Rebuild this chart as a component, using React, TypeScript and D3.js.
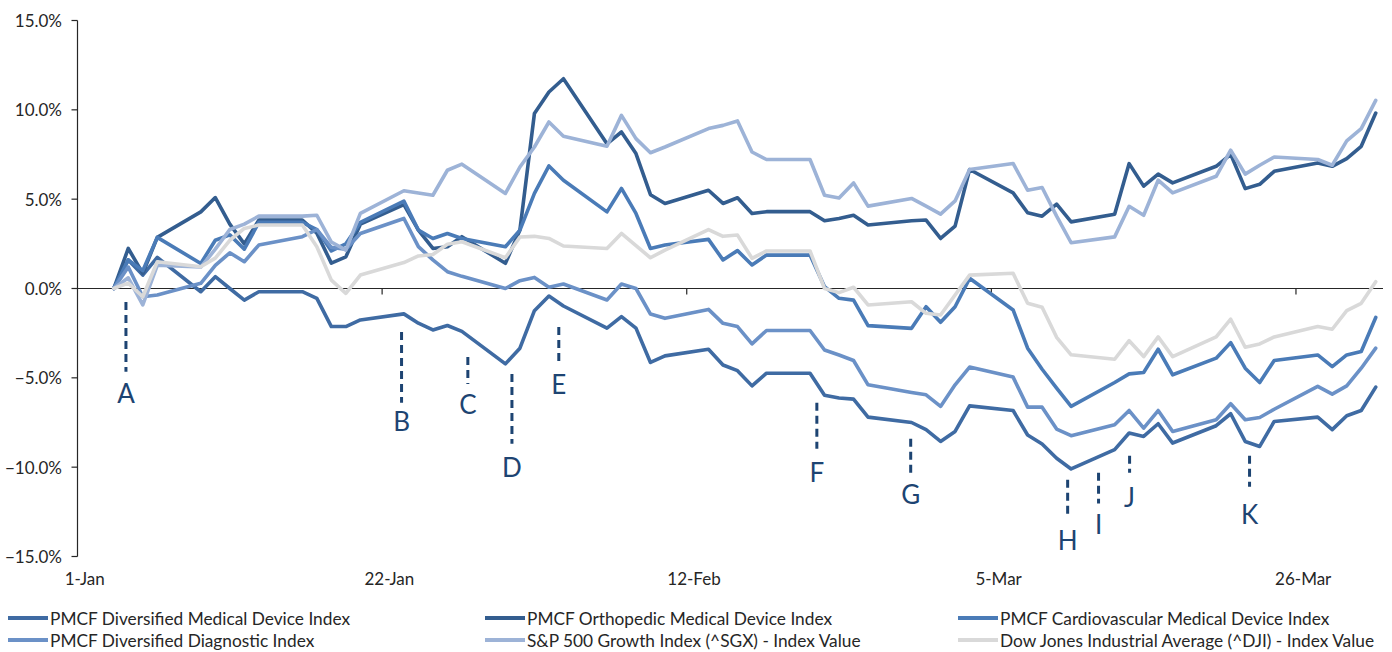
import React from 'react';
import * as d3 from 'd3';

const dates = [
  '2017-01-03','2017-01-04','2017-01-05','2017-01-06','2017-01-09','2017-01-10','2017-01-11','2017-01-12','2017-01-13',
  '2017-01-16','2017-01-17','2017-01-18','2017-01-19','2017-01-20','2017-01-23','2017-01-24','2017-01-25','2017-01-26',
  '2017-01-27','2017-01-30','2017-01-31',
  '2017-02-01','2017-02-02','2017-02-03','2017-02-06','2017-02-07','2017-02-08','2017-02-09','2017-02-10','2017-02-13',
  '2017-02-14','2017-02-15','2017-02-16','2017-02-17','2017-02-20','2017-02-21','2017-02-22','2017-02-23','2017-02-24',
  '2017-02-27','2017-02-28',
  '2017-03-01','2017-03-02','2017-03-03','2017-03-06','2017-03-07','2017-03-08','2017-03-09','2017-03-10','2017-03-13',
  '2017-03-14','2017-03-15','2017-03-16','2017-03-17','2017-03-20','2017-03-21','2017-03-22','2017-03-23','2017-03-24',
  '2017-03-27','2017-03-28','2017-03-29','2017-03-30','2017-03-31',
];

const divMed = [
  0, 1.6, 0.75, 1.74, -0.18, 0.66, 0.0, -0.65, -0.18, -0.18, -0.55, -2.13, -2.13, -1.76, -1.42, -1.94, -2.32, -2.07, -2.4, -4.22, -3.34,
  -1.24, -0.42, -0.98, -2.22, -1.57, -2.22, -4.14, -3.77, -3.4, -4.28, -4.6, -5.45, -4.74, -4.74, -5.98, -6.13, -6.19, -7.2, -7.5, -7.9,
  -8.56, -8.0, -6.57, -6.83, -8.2, -8.7, -9.5, -10.1, -9.02, -8.09, -8.28, -7.57, -8.65, -7.68, -7.01, -8.56, -8.84, -7.44, -7.2, -7.9, -7.12, -6.83, -5.52,
];
const ortho = [
  0, 2.24, 0.85, 2.86, 4.29, 5.09, 3.6, 2.5, 3.83, 3.83, 3.1, 1.42, 1.77, 3.6, 4.7, 3.27, 2.24, 2.34, 2.9, 1.41, 3.27,
  9.79, 11.0, 11.74, 8.1, 8.76, 7.55, 5.25, 4.76, 5.5, 4.76, 5.08, 4.2, 4.3, 4.3, 3.79, 3.92, 4.1, 3.55, 3.79, 3.83,
  2.8, 3.49, 6.66, 5.35, 4.24, 4.05, 4.72, 3.73, 4.16, 6.99, 5.73, 6.4, 5.91, 6.84, 7.51, 5.59, 5.83, 6.56, 7.03, 6.84, 7.27, 7.96, 9.82,
];
const cardio = [
  0, 1.6, 1.0, 2.86, 1.4, 2.7, 3.0, 2.2, 3.7, 3.7, 3.3, 2.1, 2.5, 3.7, 4.89, 3.27, 2.8, 3.08, 2.8, 2.34, 3.27,
  5.32, 6.86, 6.06, 4.29, 5.6, 4.2, 2.24, 2.43, 2.75, 1.6, 2.12, 1.32, 1.87, 1.87, 0.1, -0.55, -0.65, -2.08, -2.23, -1.02,
  -1.89, -1.02, 0.57, -1.2, -3.34, -4.52, -5.58, -6.6, -5.26, -4.78, -4.7, -3.4, -4.83, -3.9, -3.03, -4.46, -5.26, -4.03, -3.72, -4.37, -3.72, -3.53, -1.62,
];
const diag = [
  0, 1.2, -0.46, -0.36, 0.29, 1.3, 2.0, 1.5, 2.43, 2.9, 3.3, 2.3, 2.2, 3.08, 3.92, 2.34, 1.6, 0.94, 0.68, 0.0, 0.44,
  0.62, 0.07, 0.25, -0.64, 0.25, 0.0, -1.43, -1.67, -1.17, -1.95, -2.13, -3.1, -2.35, -2.35, -3.44, -3.72, -4.03, -5.39, -5.82, -5.95,
  -6.6, -5.39, -4.4, -4.96, -6.64, -6.64, -7.87, -8.24, -7.63, -6.83, -7.81, -6.83, -8.0, -7.35, -6.45, -7.35, -7.22, -6.76, -5.48, -5.91, -5.45, -4.46, -3.34,
];
const spGrowth = [
  0, 0.6, -0.92, 1.3, 1.2, 2.2, 3.3, 3.6, 4.05, 4.05, 4.1, 2.6, 2.15, 4.2, 5.47, 5.35, 5.22, 6.62, 6.96, 5.32, 6.8,
  7.92, 9.32, 8.52, 7.96, 9.69, 8.39, 7.6, 7.92, 8.95, 9.13, 9.38, 7.64, 7.22, 7.22, 5.22, 5.07, 5.91, 4.61, 5.04, 4.61,
  4.16, 4.9, 6.66, 7.0, 5.5, 5.65, 4.05, 2.56, 2.89, 4.6, 4.1, 6.06, 5.35, 6.28, 7.74, 6.4, 6.9, 7.36, 7.22, 6.9, 8.26, 8.95, 10.53,
];
const dji = [
  0, 0.3, -0.46, 1.5, 1.22, 1.7, 2.7, 3.36, 3.55, 3.55, 2.34, 0.47, -0.27, 0.75, 1.45, 1.82, 1.9, 2.48, 2.62, 1.72, 2.88,
  2.92, 2.8, 2.38, 2.24, 3.08, 2.4, 1.72, 2.15, 3.3, 2.92, 2.99, 1.69, 2.1, 2.1, 0.0, -0.23, 0.07, -0.92, -0.74, -1.39,
  -1.48, -0.36, 0.75, 0.85, -0.83, -1.05, -2.73, -3.71, -3.96, -2.92, -3.81, -2.71, -3.81, -2.71, -1.72, -3.29, -3.1, -2.71, -2.13, -2.28, -1.24, -0.83, 0.38,
];

const seriesNames = [
  'PMCF Diversified Medical Device Index',
  'PMCF Orthopedic Medical Device Index',
  'PMCF Cardiovascular Medical Device Index',
  'PMCF Diversified Diagnostic Index',
  'S&P 500 Growth Index (^SGX) - Index Value',
  'Dow Jones Industrial Average (^DJI) - Index Value',
];
const seriesValues = [divMed, ortho, cardio, diag, spGrowth, dji];
const seriesColors = ['#3f6ba3', '#335d8f', '#4a7bb7', '#6b91c7', '#9db3d7', '#d9d9d9'];

const yTicks = [15, 10, 5, 0, -5, -10, -15];
const xTickDates = ['2017-01-01', '2017-01-22', '2017-02-12', '2017-03-05', '2017-03-26'];
const xTickLabels = ['1-Jan', '22-Jan', '12-Feb', '5-Mar', '26-Mar'];

// day offset from 1-Jan (fractional), dash top/bottom and label centre in % units
const annLabels = ['A', 'B', 'C', 'D', 'E', 'F', 'G', 'H', 'I', 'J', 'K'];
const annDays = [3.34, 22.34, 26.91, 29.95, 33.18, 50.97, 57.44, 68.26, 70.39, 72.53, 80.8];
const annTop = [-0.75, -2.43, -3.83, -4.78, -2.15, -6.4, -8.41, -10.7, -10.31, -9.36, -9.36];
const annBottom = [-4.66, -6.4, -5.34, -8.69, -4.16, -8.97, -10.31, -12.77, -12.04, -10.31, -11.09];
const annText = [-5.84, -7.4, -6.45, -9.97, -5.34, -10.25, -11.48, -14.05, -13.16, -11.65, -12.6];

const W = 1392;
const H = 652;
const FONT = 'Lato, "Open Sans", sans-serif';

export default function App() {
  const parse = d3.utcParse('%Y-%m-%d');
  const start = parse('2017-01-01') as Date;
  const end = parse('2017-04-01') as Date;
  const x = d3.scaleUtc().domain([start, end]).range([77.5, 1383]);
  const y = d3.scaleLinear().domain([-15, 15]).range([556.5, 20.5]);
  const mid = (d: Date) => new Date(d.getTime() + 12 * 3600 * 1000);
  const pts = dates.map((s) => mid(parse(s) as Date));
  const line = d3
    .line<number>()
    .x((_, i) => x(pts[i]))
    .y((v) => y(v));
  const dayX = (day: number) => x(new Date(start.getTime() + day * 86400000));

  const legendCols = [8, 485, 958];
  const legendRows = [618, 640];
  const axisColor = '#262626';

  return (
    <div style={{ position: 'absolute', left: 0, top: 0 }}>
      <svg width={W} height={H} style={{ display: 'block', background: '#fff' }} fontFamily={FONT}>
        {/* y axis */}
        <line x1={77.5} x2={77.5} y1={y(15)} y2={y(-15)} stroke={axisColor} strokeWidth={1.2} />
        {yTicks.map((t) => (
          <g key={t}>
            <line x1={71.5} x2={77.5} y1={y(t)} y2={y(t)} stroke={axisColor} strokeWidth={1.2} />
            <text x={62} y={y(t)} textAnchor="end" dominantBaseline="central" fontSize={17} fill="#262626">
              {d3.format('.1f')(t) + '%'}
            </text>
          </g>
        ))}
        {/* x axis at zero */}
        <line x1={77.5} x2={1383} y1={y(0)} y2={y(0)} stroke={axisColor} strokeWidth={1.2} />
        {xTickDates.map((s, i) => {
          const d = parse(s) as Date;
          return (
            <g key={s}>
              {i > 0 && <line x1={x(d)} x2={x(d)} y1={y(0)} y2={y(0) + 6} stroke={axisColor} strokeWidth={1.2} />}
              <text x={x(mid(d))} y={585} textAnchor="middle" fontSize={17} fill="#262626">
                {xTickLabels[i]}
              </text>
            </g>
          );
        })}
        {/* series */}
        {seriesValues.map((vals, i) => (
          <path
            key={seriesNames[i]}
            d={line(vals) || ''}
            fill="none"
            stroke={seriesColors[i]}
            strokeWidth={3.6}
            strokeLinejoin="round"
            strokeLinecap="round"
          />
        ))}
        {/* annotations */}
        {annLabels.map((lab, i) => (
          <g key={lab}>
            <line
              x1={dayX(annDays[i])}
              x2={dayX(annDays[i])}
              y1={y(annTop[i])}
              y2={y(annBottom[i])}
              stroke="#1d4472"
              strokeWidth={3}
              strokeDasharray="8 5"
            />
            <text
              x={dayX(annDays[i])}
              y={y(annText[i])}
              textAnchor="middle"
              dominantBaseline="central"
              fontSize={26}
              fill="#1d4472"
            >
              {lab}
            </text>
          </g>
        ))}
        {/* legend */}
        {seriesNames.map((name, i) => {
          const cx = legendCols[i % 3];
          const cy = legendRows[Math.floor(i / 3)];
          return (
            <g key={name}>
              <line x1={cx} x2={cx + 40} y1={cy} y2={cy} stroke={seriesColors[i]} strokeWidth={4} />
              <text x={cx + 42} y={cy} dominantBaseline="central" fontSize={17.3} fill="#262626">
                {name}
              </text>
            </g>
          );
        })}
      </svg>
    </div>
  );
}
